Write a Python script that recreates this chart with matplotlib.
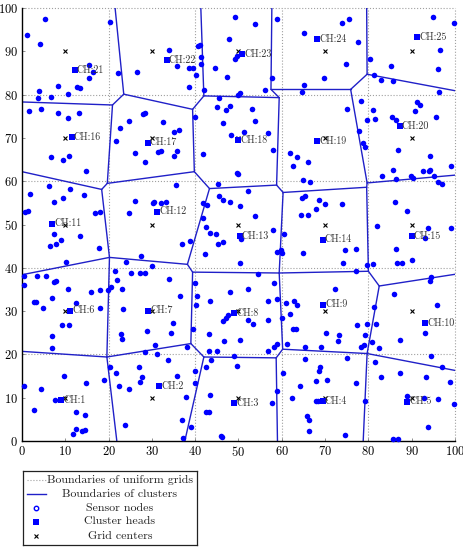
import matplotlib
matplotlib.use('Agg')
import matplotlib.pyplot as plt

plt.rcParams['font.family'] = 'serif'
plt.rcParams['font.serif'] = ['cmr10', 'DejaVu Serif']
plt.rcParams['axes.formatter.use_mathtext'] = True
plt.rcParams['mathtext.fontset'] = 'cm'

# ---------------- data ----------------
grid_lines = [0, 20, 40, 60, 80, 100]
grid_centers = [10, 30, 50, 70, 90]
ticks = [0, 10, 20, 30, 40, 50, 60, 70, 80, 90, 100]

sensor_nodes = [
    # cluster 21
    (1.2, 93.8), (5.2, 97.5), (4.1, 91.8), (15.4, 86.8), (16.5, 85.3), (15.5, 83.9),
    (4.0, 80.9), (3.8, 79.1), (8.2, 82.1), (6.7, 79.4), (10.7, 80.2), (12.6, 81.8),
    (13.5, 81.5), (20.3, 96.8),
    # cluster 22
    (22.2, 85.1), (26.6, 85.2), (33.9, 90.2), (35.8, 86.6), (38.6, 86.1), (39.4, 86.2),
    (38.6, 81.8), (40.2, 84.6), (40.7, 91.2), (41.1, 91.4), (41.3, 88.6), (41.4, 87.0),
    (42.0, 81.0),
    # cluster 16
    (1.7, 76.2), (4.5, 76.6), (8.4, 75.7), (10.6, 74.7), (13.2, 75.8), (6.6, 65.5),
    (9.4, 64.9), (10.8, 65.8), (14.7, 62.3),
    # cluster 17
    (21.6, 69.3), (22.6, 72.3), (24.7, 74.0), (26.0, 66.6), (28.0, 75.5), (28.5, 75.7),
    (28.3, 64.4), (32.5, 73.7), (31.5, 66.8), (32.1, 67.0), (35.2, 71.3), (36.3, 71.8),
    (35.1, 65.9), (35.8, 67.0),
    # cluster 18
    (40.0, 74.8), (41.8, 66.3), (45.5, 79.3), (45.0, 77.1), (47.2, 76.5), (48.0, 77.4),
    (46.5, 73.5), (48.3, 70.7), (53.2, 76.6), (53.8, 73.8), (51.3, 71.4), (56.9, 71.1),
    (58.0, 67.2), (49.6, 62.0), (50.0, 61.6), (45.2, 59.4),
    # cluster 23
    (44.5, 86.2), (47.3, 84.1), (47.8, 92.8), (49.6, 88.9), (49.3, 88.2), (49.1, 98.0),
    (53.9, 96.3), (57.8, 83.8), (56.1, 81.1), (50.3, 80.3), (49.9, 79.9),
    # cluster 24
    (59.0, 97.5), (65.1, 94.2), (73.8, 96.5), (75.6, 97.4), (77.7, 92.1), (74.9, 87.1),
    (69.8, 83.8), (65.1, 82.2), (64.7, 80.5),
    # cluster 25
    (94.9, 97.9), (99.8, 96.5), (96.5, 90.3), (80.4, 88.3), (85.2, 86.5), (96.0, 85.8),
    (81.3, 84.6),
    # cluster 20
    (82.9, 83.4), (85.7, 83.2), (96.3, 80.5), (78.2, 78.5), (81.1, 76.5), (79.6, 74.2),
    (81.6, 74.4), (77.8, 71.5), (78.8, 68.9), (79.2, 68.0), (85.5, 74.8), (86.3, 74.2),
    (91.3, 78.2), (92.0, 77.5), (90.8, 76.3), (95.7, 74.8), (86.9, 67.2), (94.3, 65.8),
    (85.7, 62.6), (83.2, 61.2), (86.3, 60.5), (89.8, 61.2), (90.2, 60.7), (92.5, 62.4),
    (93.9, 62.4), (94.3, 62.7), (95.1, 61.3), (99.1, 63.4),
    # cluster 19
    (75.0, 76.7), (62.0, 66.5), (63.4, 65.7), (62.7, 63.5), (66.0, 64.5), (65.0, 60.2),
    (66.5, 59.9),
    # cluster 15
    (96.0, 59.9), (97.0, 59.3), (86.2, 55.3), (88.8, 53.1), (82.1, 49.7), (93.7, 49.2),
    (99.1, 49.3), (93.0, 46.8), (86.3, 44.4), (86.5, 41.2), (87.7, 41.2), (90.1, 41.9),
    (81.0, 40.8), (94.4, 37.8), (94.2, 37.0),
    # cluster 14
    (64.7, 56.2), (65.3, 56.5), (68.7, 55.7), (70.0, 54.8), (67.9, 53.5), (74.0, 54.8),
    (64.4, 52.1), (66.0, 52.3), (60.6, 47.9), (64.8, 43.5), (74.7, 44.1), (77.1, 44.4),
    (74.2, 41.2), (77.1, 39.2), (79.6, 40.6),
    # cluster 13
    (41.9, 55.0), (42.8, 54.5), (45.6, 56.6), (46.5, 55.6), (48.0, 55.1), (50.4, 54.3),
    (41.7, 51.4), (52.2, 57.8), (53.8, 52.0), (57.9, 48.8), (42.6, 49.4), (43.4, 48.1),
    (44.9, 47.9), (45.3, 45.5), (46.5, 45.9), (42.2, 43.2), (50.6, 46.7), (50.3, 41.0),
    (54.6, 38.6), (58.8, 43.7), (59.9, 44.0), (60.1, 43.4),
    # cluster 12
    (35.5, 59.1), (26.1, 55.5), (24.6, 52.7), (30.2, 54.9), (30.5, 55.3), (32.2, 54.9),
    (33.2, 55.2), (37.0, 45.4), (38.9, 46.2),
    # cluster 11
    (1.8, 57.1), (6.3, 58.8), (7.4, 55.1), (9.5, 56.1), (11.2, 58.2), (14.3, 56.7),
    (0.8, 52.9), (1.4, 53.1), (16.8, 52.6), (18.0, 53.0), (7.4, 47.9), (6.4, 45.1),
    (7.8, 45.4), (9.0, 46.4), (13.4, 47.4), (17.8, 44.6), (10.1, 41.4),
    # cluster 6
    (0.5, 38.2), (0.5, 36.0), (3.5, 38.2), (5.5, 38.2), (7.4, 36.8), (7.8, 37.0),
    (10.6, 35.0), (15.9, 34.4), (18.0, 34.8), (19.9, 34.8), (2.8, 32.0), (3.2, 32.0),
    (7.0, 33.1), (12.4, 31.8), (4.9, 30.8), (18.0, 30.8), (9.2, 26.8), (10.9, 26.7),
    (7.0, 24.2), (7.0, 21.4),
    # cluster 7
    (21.5, 39.3), (22.0, 37.2), (23.0, 35.2), (20.5, 35.6), (24.1, 41.3), (25.1, 38.8),
    (27.2, 38.7), (28.4, 38.8), (27.5, 42.8), (30.1, 40.5), (34.0, 37.5), (36.5, 33.5),
    (23.4, 30.4), (22.8, 24.8), (23.2, 23.5), (28.8, 25.5), (34.9, 27.3), (34.5, 25.0),
    (30.7, 22.1), (31.1, 20.2), (28.5, 20.6), (38.0, 21.8),
    # cluster 8
    (40.0, 36.4), (40.5, 33.5), (40.2, 31.4), (43.4, 32.3), (48.0, 34.5), (47.6, 29.2),
    (47.2, 28.5), (46.5, 27.7), (39.5, 25.8), (43.1, 24.7), (46.7, 23.2), (43.2, 20.8),
    (45.1, 20.8), (49.0, 19.6), (50.3, 23.3), (52.3, 35.1), (58.3, 36.5), (56.7, 32.4),
    (58.8, 32.7), (52.3, 27.9), (53.3, 27.0), (56.9, 27.9), (58.3, 21.8), (59.0, 22.4),
    (56.7, 20.8),
    # cluster 9
    (72.3, 35.2), (61.0, 31.9), (61.9, 29.3), (62.9, 32.3), (63.4, 31.3), (60.1, 28.5),
    (62.7, 25.8), (63.2, 25.8), (70.3, 24.9), (73.3, 24.4), (73.0, 23.2), (77.4, 26.9),
    (79.2, 24.5), (79.7, 27.0), (61.1, 22.5), (65.4, 21.6), (69.1, 21.8), (78.3, 21.8),
    (79.0, 22.1), (81.3, 31.0),
    # cluster 10
    (81.7, 27.0), (80.9, 22.9), (82.5, 21.5), (86.0, 34.0), (95.8, 31.5), (93.1, 24.9),
    (87.3, 23.4), (94.5, 19.6), (97.0, 17.1),
    # cluster 1
    (0.5, 12.8), (4.5, 12.0), (9.7, 15.0), (14.8, 13.3), (18.9, 14.1), (2.8, 7.2),
    (7.6, 9.5), (12.5, 6.6), (14.5, 6.1), (12.5, 2.8), (13.8, 2.4), (14.5, 2.6),
    (11.7, 1.6),
    # cluster 2
    (20.3, 17.0), (21.7, 15.6), (22.4, 12.8), (24.8, 11.9), (27.0, 17.1), (27.8, 14.7),
    (27.2, 13.7), (33.8, 18.7), (35.9, 15.0), (40.0, 16.2), (39.9, 13.3), (37.8, 10.2),
    (37.0, 4.8), (37.2, 0.8), (39.0, 3.2), (23.8, 3.8),
    # cluster 3
    (42.6, 17.2), (43.6, 18.7), (43.5, 10.6), (42.6, 6.8), (43.2, 6.8), (46.3, 0.9),
    (46.0, 1.1), (49.7, 17.4), (59.0, 11.6), (57.7, 8.7),
    # cluster 4
    (60.3, 15.8), (65.3, 18.9), (68.8, 17.0), (68.7, 16.2), (70.5, 14.2), (67.8, 13.8),
    (64.3, 12.6), (62.4, 9.9), (68.0, 9.2), (68.4, 9.2), (65.9, 5.8), (66.3, 4.8),
    (66.3, 2.4), (74.7, 1.3), (77.1, 13.4), (75.0, 19.2), (79.3, 9.3),
    # cluster 5
    (81.6, 18.3), (82.8, 14.7), (87.3, 15.8), (93.3, 14.7), (98.9, 13.7), (88.8, 10.5),
    (92.8, 10.0), (96.0, 9.7), (99.7, 8.5), (93.8, 3.2), (85.7, 0.5), (86.9, 0.5),
]

ch_ids = list(range(1, 26))
ch_x = [9.1, 31.7, 49.0, 69.4, 89.0,
        11.2, 29.2, 49.0, 69.6, 93.1,
        7.0, 31.2, 50.3, 69.4, 90.0,
        11.5, 29.0, 50.0, 68.1, 87.2,
        12.2, 33.4, 50.9, 68.1, 91.2]
ch_y = [9.4, 12.6, 8.7, 9.2, 9.1,
        30.1, 30.1, 29.6, 31.5, 27.2,
        50.2, 53.0, 47.4, 46.5, 47.3,
        70.2, 68.9, 69.5, 69.2, 72.8,
        85.7, 87.9, 89.3, 92.9, 93.2]

# cluster boundary vertices and edges
vertices = {
    'L1': (0, 20.7), 'L2': (0, 38.4), 'L3': (0, 62.2), 'L4': (0, 78.3),
    'B1': (21.9, 0), 'B2': (37.6, 0), 'B3': (59.0, 0), 'B4': (78.8, 0),
    'T1': (21.5, 100), 'T2': (41.3, 100), 'T3': (57.7, 100), 'T4': (79.6, 100),
    'R1': (100, 16.3), 'R2': (100, 38.5), 'R3': (100, 61.4), 'R4': (100, 80.9),
    'A1': (19.6, 19.4), 'A2': (39.0, 22.5), 'A2b': (42.0, 19.4),
    'A3': (60.2, 21.2), 'A3b': (58.7, 19.2), 'A4': (79.7, 20.2),
    'C1': (20.2, 42.4), 'C2': (38.2, 40.8), 'C2b': (39.4, 39.0),
    'C3': (59.4, 38.8), 'C4': (80.0, 39.2), 'C4b': (82.5, 35.8),
    'D1': (19.7, 59.5), 'D1b': (18.4, 58.1), 'D2': (39.8, 62.2), 'D2b': (43.3, 58.3),
    'D3': (58.8, 59.1), 'D3b': (60.3, 57.4), 'D4': (79.7, 59.6), 'D4b': (79.6, 58.6),
    'E1': (23.5, 80.1), 'E1b': (20.9, 77.6), 'E2': (39.4, 76.6), 'E2b': (42.0, 79.7),
    'E3': (57.5, 81.2), 'E3b': (59.4, 79.3), 'E4': (75.9, 81.2), 'E4b': (79.7, 84.7),
}
edges = [
    ('L1', 'A1'), ('A1', 'B1'), ('A1', 'C1'), ('A1', 'A2'),
    ('A2', 'A2b'), ('A2b', 'B2'), ('A2b', 'A3b'),
    ('A3', 'A3b'), ('A3b', 'B3'), ('A3', 'A4'),
    ('A4', 'B4'), ('A4', 'R1'), ('A4', 'C4b'),
    ('L2', 'C1'), ('C1', 'C2'), ('C1', 'D1b'),
    ('C2', 'C2b'), ('C2', 'D2b'), ('C2b', 'A2'), ('C2b', 'C3'),
    ('C3', 'A3'), ('C3', 'C4'), ('C3', 'D3b'),
    ('C4', 'C4b'), ('C4', 'D4b'), ('C4b', 'R2'),
    ('L3', 'D1b'), ('D1b', 'D1'), ('D1', 'D2'), ('D1', 'E1b'),
    ('D2', 'D2b'), ('D2', 'E2'), ('D2b', 'D3'),
    ('D3', 'D3b'), ('D3', 'E3b'), ('D3b', 'D4b'),
    ('D4', 'D4b'), ('D4', 'E4'), ('D4', 'R3'),
    ('E1', 'T1'), ('E1', 'E1b'), ('E1', 'E2'), ('E1b', 'L4'),
    ('E2', 'E2b'), ('E2b', 'T2'), ('E2b', 'E3b'),
    ('E3', 'T3'), ('E3', 'E3b'), ('E3', 'E4'),
    ('E4', 'E4b'), ('E4b', 'T4'), ('E4b', 'R4'),
]

legend_labels = ['Boundaries of uniform grids', 'Boundaries of clusters',
                 'Sensor nodes', 'Cluster heads', 'Grid centers']

# ---------------- styles ----------------
BLUE = '#0000ff'
LINE_BLUE = '#2020c8'
GRID_GRAY = '#a0a0a0'
FS_TICK = 9.0
FS_CH = 7.2
FS_LEG = 8.6

fig = plt.figure(figsize=(4.64, 5.48), dpi=100)
ax = fig.add_axes([22 / 464, 1 - 441 / 548, 433 / 464, 433 / 548])
ax.set_xlim(0, 100)
ax.set_ylim(0, 100)

# uniform grid boundaries
for g in grid_lines[1:]:
    ax.plot([g, g], [0, 100], linestyle=':', color=GRID_GRAY, lw=0.8, clip_on=False, zorder=1)
    ax.plot([0, 100], [g, g], linestyle=':', color=GRID_GRAY, lw=0.8, clip_on=False, zorder=1)

# cluster boundaries
for a, b in edges:
    (x1, y1), (x2, y2) = vertices[a], vertices[b]
    ax.plot([x1, x2], [y1, y2], color=LINE_BLUE, lw=1.0, zorder=2, solid_capstyle='round')

# sensor nodes
sx = [p[0] for p in sensor_nodes]
sy = [p[1] for p in sensor_nodes]
ax.plot(sx, sy, 'o', color=BLUE, markersize=4.0, markeredgewidth=0, zorder=3, clip_on=False)

# grid centers
gcx = [cx for cy in grid_centers for cx in grid_centers]
gcy = [cy for cy in grid_centers for cx in grid_centers]
ax.plot(gcx, gcy, 'x', color='black', markersize=2.6, markeredgewidth=0.8, zorder=4)

# cluster heads
ax.plot(ch_x, ch_y, 's', color=BLUE, markersize=3.8, markeredgewidth=0, zorder=5)
for i, x, y in zip(ch_ids, ch_x, ch_y):
    ax.text(x + 0.5, y, f'CH:{i}', fontsize=FS_CH, color='#333333', ha='left', va='center', zorder=6)

ax.set_xticks(ticks)
ax.set_yticks(ticks)
ax.tick_params(direction='in', length=2, width=0.5, color='#666666', labelsize=FS_TICK, pad=3)
for s in ['top', 'right']:
    ax.spines[s].set_visible(False)
for s in ['left', 'bottom']:
    ax.spines[s].set_linewidth(1.0)

# legend (centered text, like the original)
lax = fig.add_axes([23.3 / 464, 1 - 545.3 / 548, 174 / 464, 74.6 / 548])
lax.set_xlim(0, 174)
lax.set_ylim(74.6, 0)
lax.set_xticks([])
lax.set_yticks([])
for s in lax.spines.values():
    s.set_linewidth(0.9)
    s.set_color('#222222')
rows = [9.3, 23.3, 37.3, 51.0, 65.3]
lax.plot([3.5, 22.5], [rows[0], rows[0]], linestyle=':', color=GRID_GRAY, lw=0.8)
lax.plot([3.5, 22.5], [rows[1], rows[1]], color=LINE_BLUE, lw=1.0)
lax.plot([12.5], [rows[2]], 'o', markerfacecolor='white', markeredgecolor=BLUE,
         markersize=3.2, markeredgewidth=1.0)
lax.plot([12.5], [rows[3]], 's', color=BLUE, markersize=3.8, markeredgewidth=0)
lax.plot([12.5], [rows[4]], 'x', color='black', markersize=2.6, markeredgewidth=0.8)
for r, lab in zip(rows, legend_labels):
    lax.text(96.5, r, lab, fontsize=FS_LEG, ha='center', va='center', color='#222222')

fig.savefig('out.png', dpi=100)
